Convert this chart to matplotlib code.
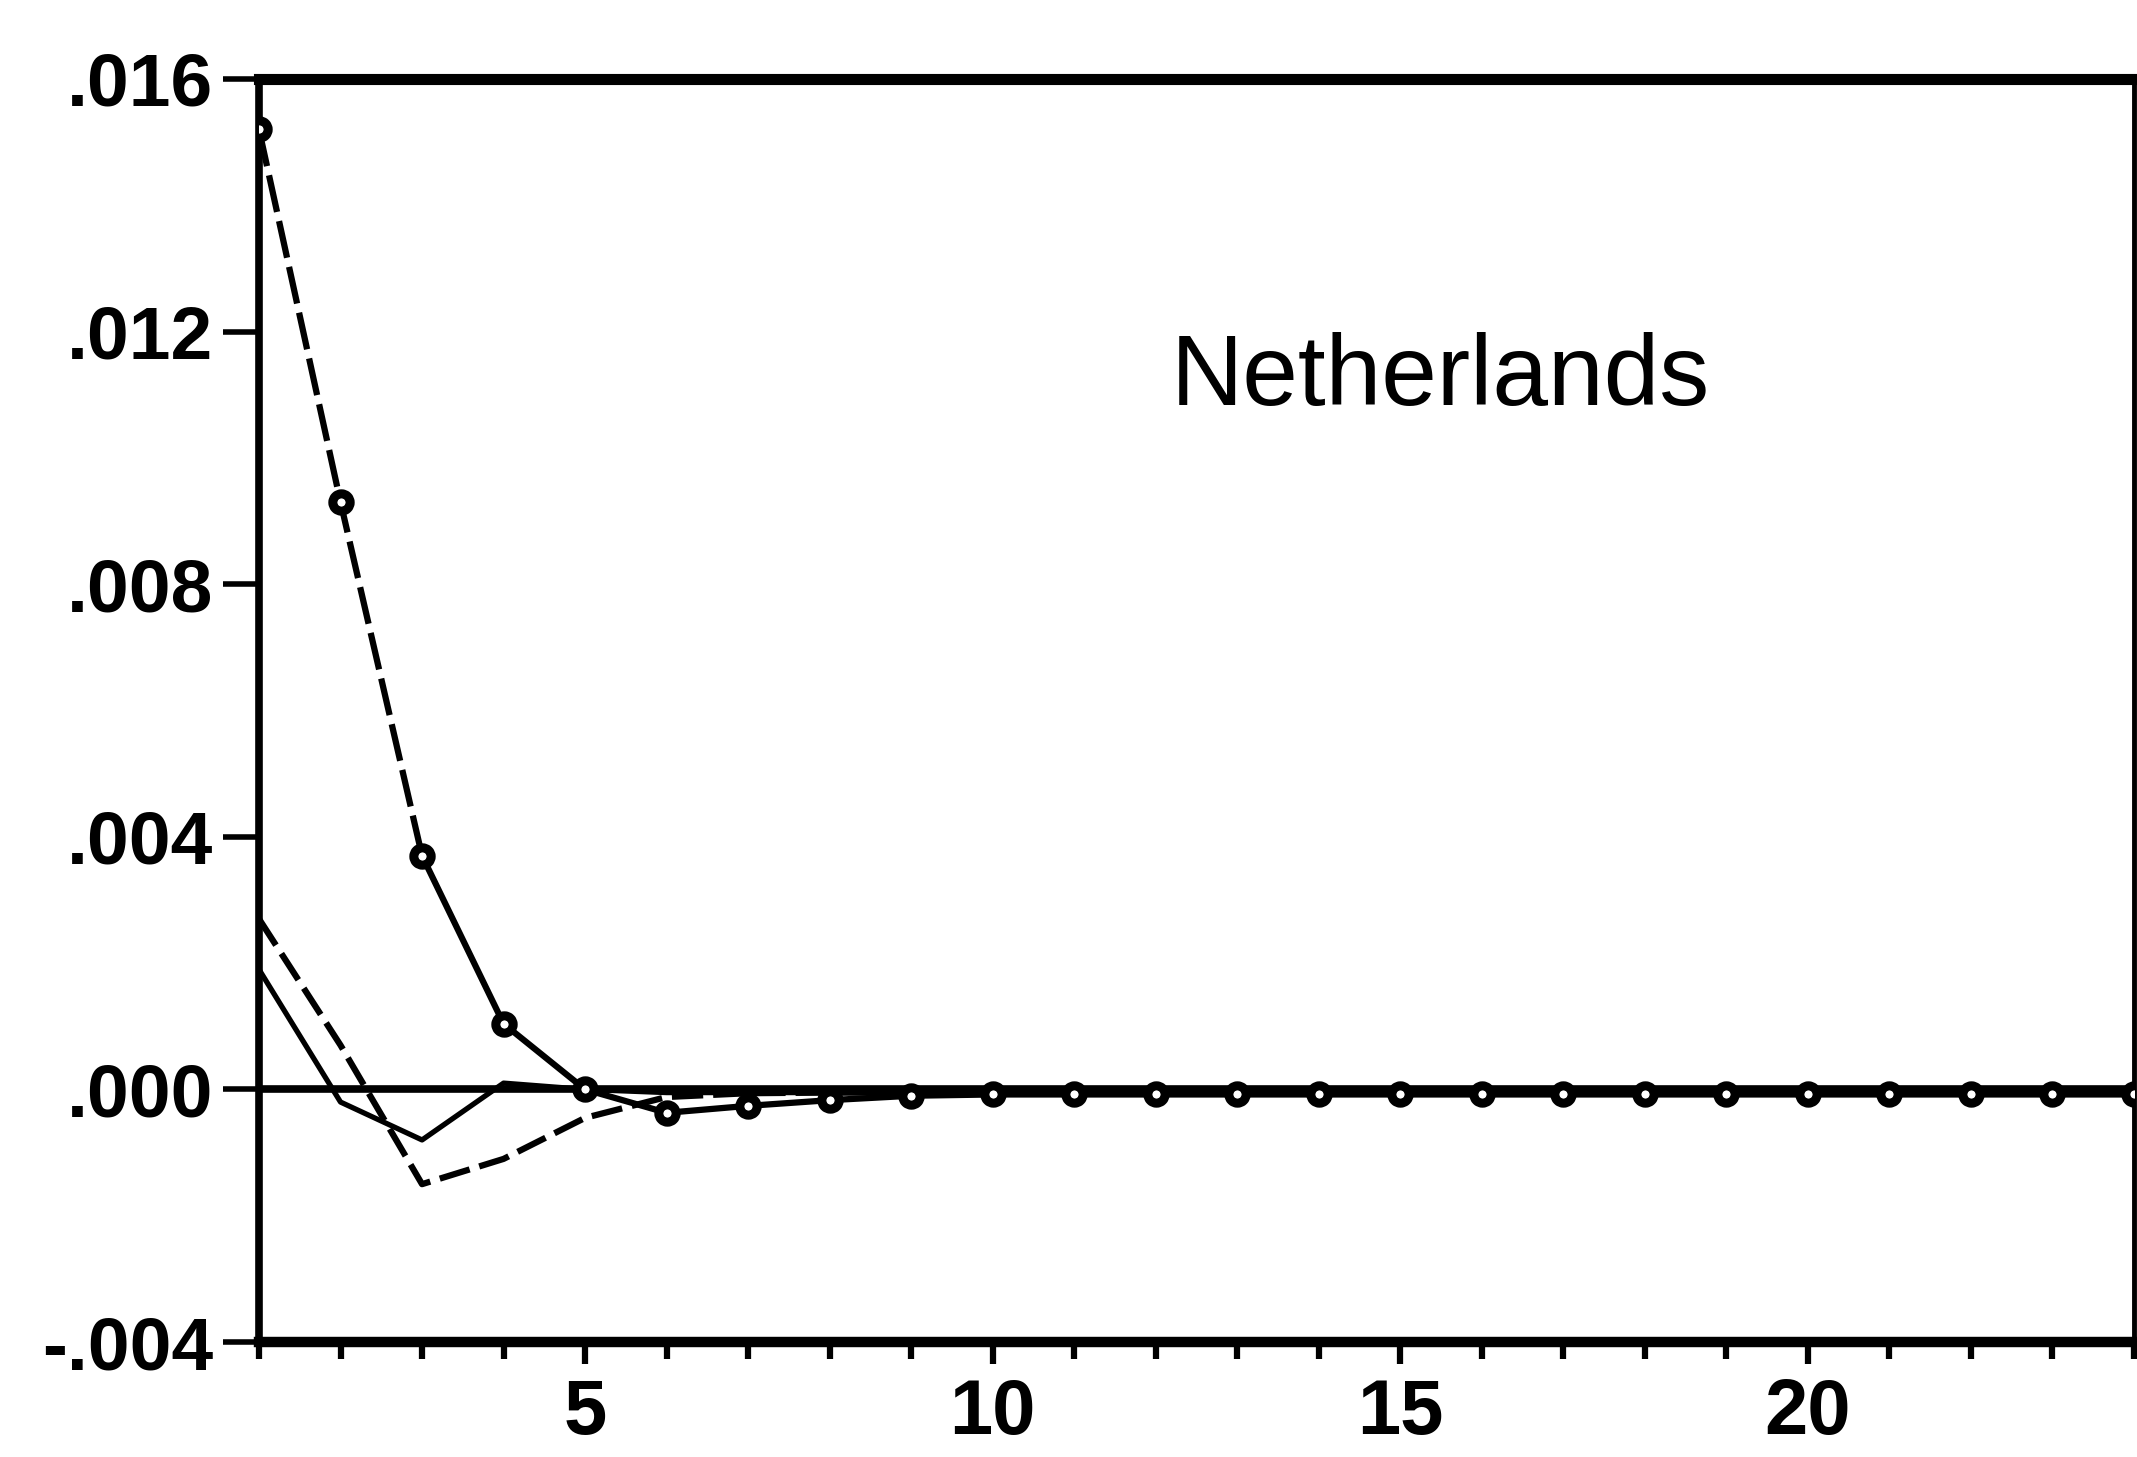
import matplotlib.pyplot as plt
from matplotlib.ticker import FixedLocator

# horizons and responses
periods = list(range(1, 25))
resp_own = [0.0152, 0.0093, 0.0037, 0.00104, 0.0, -0.00037, -0.00026, -0.00017,
            -0.0001, -0.00008, -0.00008, -0.00008, -0.00008, -0.00008, -0.00008, -0.00008,
            -0.00008, -0.00008, -0.00008, -0.00008, -0.00008, -0.00008, -0.00008, -0.00008]
resp_a = [0.0019, -0.0002, -0.0008, 0.0001, 0.0, -0.00005, -0.00005, -0.00005,
          -0.00005, -0.00005, -0.00005, -0.00005, -0.00005, -0.00005, -0.00005, -0.00005,
          -0.00005, -0.00005, -0.00005, -0.00005, -0.00005, -0.00005, -0.00005, -0.00005]
resp_b = [0.0027, 0.0007, -0.0015, -0.0011, -0.00045, -0.00012, -0.00006, -0.00005,
          -0.00005, -0.00005, -0.00005, -0.00005, -0.00005, -0.00005, -0.00005, -0.00005,
          -0.00005, -0.00005, -0.00005, -0.00005, -0.00005, -0.00005, -0.00005, -0.00005]

yticks = [-0.004, 0.0, 0.004, 0.008, 0.012, 0.016]
ytick_labels = ['-.004', '.000', '.004', '.008', '.012', '.016']
xticks_major = [5, 10, 15, 20]
title = 'Netherlands'

plt.rcParams['font.family'] = ['Liberation Sans', 'DejaVu Sans']

fig = plt.figure(figsize=(21.37, 14.57), dpi=100)
ax = fig.add_axes([0.1212, 0.0789, 0.8774, 0.8669])

ax.axhline(0, color='black', lw=5.5, zorder=1)

# dashed response
ax.plot(periods, resp_b, color='black', lw=4.5, dashes=(5, 1.6), zorder=2)
# thin solid response
ax.plot(periods, resp_a, color='black', lw=3.8, zorder=2)
# response with markers: dashed over the first steps, solid afterwards
ax.plot(periods[:3], resp_own[:3], color='black', lw=4.5, dashes=(6, 1.5), zorder=3)
ax.plot(periods[2:], resp_own[2:], color='black', lw=4.5, zorder=3)
ax.plot(periods, resp_own, ls='none', marker='o', ms=12.5, mfc='white',
        mec='black', mew=6.5, zorder=4)

ax.set_xlim(1, 24)
ax.set_ylim(-0.004, 0.016)

ax.set_yticks(yticks)
ax.set_yticklabels(ytick_labels)
ax.xaxis.set_major_locator(FixedLocator(xticks_major))
ax.xaxis.set_minor_locator(FixedLocator(periods))
ax.set_xticklabels([str(v) for v in xticks_major])

ax.tick_params(axis='y', direction='out', length=26, width=4, pad=7,
               labelsize=54)
ax.tick_params(axis='x', which='major', direction='out', length=16, width=4.5,
               pad=9, labelsize=56)
ax.tick_params(axis='x', which='minor', direction='out', length=12, width=4.5)
for lab in ax.get_xticklabels() + ax.get_yticklabels():
    lab.set_fontweight('bold')

ax.spines['top'].set_linewidth(8)
ax.spines['bottom'].set_linewidth(7.5)
ax.spines['left'].set_linewidth(5.5)
ax.spines['right'].set_linewidth(3.5)

ax.text(0.486, 0.742, title, transform=ax.transAxes, fontsize=72,
        ha='left', va='baseline')

fig.savefig('out.png', dpi=100)
